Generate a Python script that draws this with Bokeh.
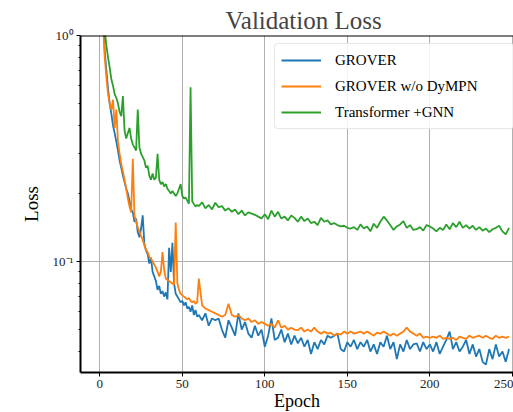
from bokeh.plotting import figure
from bokeh.models import Range1d, Span, SingleIntervalTicker, FixedTicker, Legend
from bokeh.embed import file_html
from bokeh.resources import INLINE

# ---- data ----
# epochs 0..59 step 1, then 60..248 step 2
grover_early = [3.0, 1.8, 1.2, 0.85, 0.7, 0.58, 0.5, 0.45, 0.4, 0.37,
                0.34, 0.31, 0.28, 0.26, 0.24, 0.225, 0.21, 0.2, 0.185, 0.17,
                0.165, 0.15, 0.155, 0.135, 0.128, 0.14, 0.16, 0.12, 0.112, 0.108,
                0.098, 0.104, 0.09, 0.086, 0.082, 0.075, 0.078, 0.072, 0.074, 0.07,
                0.073, 0.068, 0.115, 0.09, 0.121, 0.08, 0.072, 0.07, 0.068, 0.066,
                0.067, 0.064, 0.066, 0.062, 0.063, 0.06, 0.064, 0.058, 0.061, 0.057]
grover_late = [0.058, 0.055, 0.059, 0.052, 0.056, 0.055, 0.056, 0.05, 0.046, 0.055,
               0.051, 0.047, 0.059, 0.05, 0.054, 0.048, 0.046, 0.052, 0.047, 0.05,
               0.042, 0.047, 0.056, 0.045, 0.046, 0.05, 0.044, 0.048, 0.043, 0.047,
               0.0435, 0.046, 0.042, 0.045, 0.039, 0.044, 0.041, 0.045, 0.043, 0.047,
               0.046, 0.047, 0.048, 0.041, 0.04, 0.044, 0.042, 0.045, 0.041, 0.044,
               0.042, 0.045, 0.04, 0.043, 0.039, 0.044, 0.042, 0.047, 0.041, 0.044,
               0.037, 0.043, 0.04, 0.045, 0.041, 0.043, 0.0435, 0.04, 0.044, 0.041,
               0.043, 0.04, 0.044, 0.039, 0.042, 0.045, 0.049, 0.041, 0.044, 0.04,
               0.042, 0.045, 0.039, 0.043, 0.038, 0.041, 0.036, 0.035, 0.041, 0.037,
               0.043, 0.038, 0.04, 0.036, 0.041]

nodympn_early = [3.0, 1.6, 1.1, 0.8, 0.65, 0.55, 0.5, 0.47, 0.52, 0.39,
                 0.47, 0.34, 0.3, 0.27, 0.25, 0.23, 0.21, 0.19, 0.175, 0.165,
                 0.285, 0.16, 0.15, 0.142, 0.136, 0.13, 0.125, 0.118, 0.113, 0.11,
                 0.105, 0.103, 0.1, 0.097, 0.094, 0.09, 0.086, 0.09, 0.11, 0.092,
                 0.084, 0.083, 0.082, 0.081, 0.08, 0.079, 0.149, 0.08, 0.075, 0.072,
                 0.071, 0.07, 0.069, 0.068, 0.069, 0.067, 0.066, 0.067, 0.065, 0.066]
nodympn_late = [0.084, 0.064, 0.062, 0.061, 0.06, 0.059, 0.058, 0.057, 0.058, 0.065,
                0.058, 0.057, 0.058, 0.056, 0.055, 0.056, 0.054, 0.055, 0.053, 0.054,
                0.053, 0.052, 0.053, 0.051, 0.055, 0.051, 0.052, 0.05, 0.051, 0.05,
                0.0497, 0.051, 0.049, 0.05, 0.049, 0.051, 0.049, 0.048, 0.049, 0.048,
                0.0485, 0.047, 0.048, 0.0475, 0.049, 0.048, 0.049, 0.048, 0.0485, 0.049,
                0.048, 0.049, 0.048, 0.047, 0.0485, 0.048, 0.049, 0.048, 0.047, 0.048,
                0.047, 0.048, 0.049, 0.051, 0.049, 0.048, 0.047, 0.048, 0.046, 0.0465,
                0.046, 0.0465, 0.046, 0.047, 0.0455, 0.046, 0.0455, 0.046, 0.045, 0.0465,
                0.046, 0.0455, 0.047, 0.046, 0.0465, 0.047, 0.046, 0.047, 0.046, 0.0455,
                0.047, 0.046, 0.0465, 0.046, 0.0465]

trgnn_early = [3.0, 2.0, 1.4, 1.05, 0.9, 0.8, 0.72, 0.64, 0.6, 0.55,
               0.53, 0.5, 0.46, 0.44, 0.54, 0.38, 0.35, 0.37, 0.39, 0.35,
               0.33, 0.32, 0.31, 0.47, 0.32, 0.30, 0.29, 0.28, 0.26, 0.265,
               0.24, 0.23, 0.245, 0.23, 0.235, 0.30, 0.23, 0.22, 0.225, 0.215,
               0.22, 0.21, 0.205, 0.2, 0.205, 0.2, 0.195, 0.2, 0.21, 0.22,
               0.195, 0.19, 0.192, 0.186, 0.18, 0.59, 0.185, 0.18, 0.175, 0.178]
trgnn_late = [0.176, 0.183, 0.172, 0.178, 0.170, 0.182, 0.174, 0.176, 0.168, 0.172,
              0.166, 0.170, 0.162, 0.168, 0.160, 0.165, 0.163, 0.161, 0.158, 0.155,
              0.162, 0.154, 0.168, 0.158, 0.166, 0.155, 0.158, 0.152, 0.160, 0.156,
              0.150, 0.158, 0.151, 0.155, 0.148, 0.150, 0.145, 0.156, 0.150, 0.152,
              0.146, 0.148, 0.145, 0.143, 0.144, 0.141, 0.140, 0.142, 0.138, 0.146,
              0.140, 0.143, 0.136, 0.147, 0.141, 0.150, 0.158, 0.152, 0.145, 0.138,
              0.143, 0.146, 0.151, 0.141, 0.145, 0.138, 0.139, 0.142, 0.137, 0.145,
              0.143, 0.140, 0.136, 0.141, 0.138, 0.146, 0.139, 0.148, 0.142, 0.150,
              0.141, 0.145, 0.140, 0.144, 0.138, 0.142, 0.137, 0.140, 0.135, 0.139,
              0.141, 0.144, 0.136, 0.132, 0.141]

series_names = ["GROVER", "GROVER w/o DyMPN", "Transformer +GNN"]
series_colors = ["#1f77b4", "#ff7f0e", "#2ca02c"]
x_ticks_interval = 50
y_major_ticks = [0.1, 1.0]
y_major_labels = {0.1: "10\u207b\u00b9", 1.0: "10\u2070"}
y_minor_ticks = [0.04, 0.05, 0.06, 0.07, 0.08, 0.09,
                 0.2, 0.3, 0.4, 0.5, 0.6, 0.7, 0.8, 0.9]


def epochs_for(early, late):
    return list(range(len(early))) + list(range(len(early), len(early) + 2 * len(late), 2))


SERIF = "Liberation Serif"

p = figure(frame_width=433, frame_height=337, y_axis_type="log",
           x_range=Range1d(-11.7, 250.7), y_range=Range1d(0.0323, 1.0),
           output_backend="svg", toolbar_location=None,
           min_border_left=80, min_border_right=0, min_border_top=35, min_border_bottom=40)

p.title.text = "Validation Loss"
p.title.text_font = SERIF
p.title.text_font_size = "25px"
p.title.text_font_style = "normal"
p.title.align = "left"
p.title.offset = 145
p.title.standoff = 4

renderers = []
for (early, late), name, col in zip(
        [(grover_early, grover_late), (nodympn_early, nodympn_late), (trgnn_early, trgnn_late)],
        series_names, series_colors):
    r = p.line(epochs_for(early, late), early + late, line_color=col, line_width=1.8)
    renderers.append((name, [r]))

p.outline_line_color = None
p.add_layout(Span(location=1.0, dimension="width", line_color="black", line_width=2))

for ax in (p.xaxis[0], p.yaxis[0]):
    ax.axis_line_color = "black"
    ax.axis_line_width = 2
    ax.major_tick_line_color = "black"
    ax.major_tick_in = 0
    ax.major_tick_out = 4
    ax.minor_tick_in = 0
    ax.minor_tick_out = 2
    ax.major_label_text_font = SERIF
    ax.major_label_text_font_size = "13px"
    ax.major_label_text_color = "#222222"
    ax.axis_label_text_font = SERIF
    ax.axis_label_text_font_size = "19px"
    ax.axis_label_text_font_style = "normal"
    ax.axis_label_text_color = "black"

p.xaxis[0].ticker = SingleIntervalTicker(interval=x_ticks_interval, num_minor_ticks=0)
p.xaxis[0].minor_tick_line_color = None
p.xaxis[0].axis_label = "Epoch"
p.xaxis[0].axis_label_text_font_size = "18px"
p.xaxis[0].major_label_standoff = 3
p.xaxis[0].axis_label_standoff = 0
p.yaxis[0].ticker = FixedTicker(ticks=y_major_ticks, minor_ticks=y_minor_ticks)
p.yaxis[0].major_label_overrides = y_major_labels
p.yaxis[0].axis_label = "Loss"
p.yaxis[0].major_label_standoff = 3
p.yaxis[0].axis_label_standoff = 8

p.grid.grid_line_color = "#b0b0b0"
p.grid.grid_line_width = 1
p.ygrid.minor_grid_line_color = None

legend = Legend(items=renderers, location=(194, 243),
                label_text_font=SERIF, label_text_font_size="15px",
                label_text_color="black",
                glyph_width=40, glyph_height=20, label_height=20,
                label_standoff=14, label_width=172, spacing=6, padding=6,
                margin=0, border_line_color="#d0d0d0", border_line_width=1,
                background_fill_alpha=0.85, border_radius=4)
p.add_layout(legend)

open("out.html", "w").write(file_html(p, INLINE))
